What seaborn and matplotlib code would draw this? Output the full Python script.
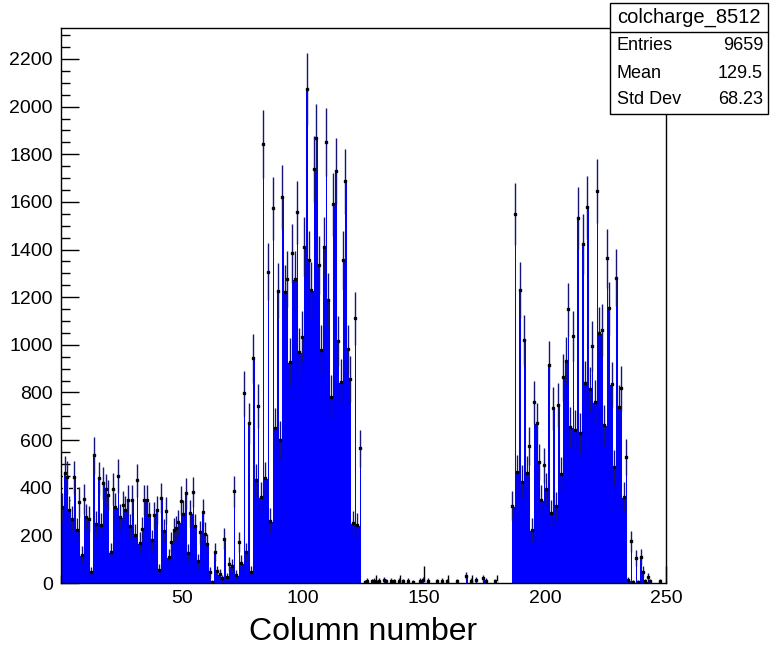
import numpy as np
import pandas as pd
import seaborn as sns
import matplotlib.pyplot as plt
from matplotlib.ticker import MultipleLocator
from matplotlib.patches import Rectangle

# bin contents, column 0..249
counts_left = [318, 460, 444, 306, 270, 444, 222, 340, 118, 354,
               278, 267, 45, 536, 248, 440, 243, 421, 393, 368,
               130, 395, 318, 449, 278, 326,
               306, 348, 239, 348, 200, 432, 169, 228, 348, 348,
               284, 180, 284, 306, 54, 356, 220, 304, 108, 172,
               222, 230, 254, 345, 290,
               376, 127, 292, 382, 240, 92, 213, 297, 207, 165,
               45, 6, 130, 50, 38, 20, 186, 25, 78, 73,
               386, 34, 172, 85, 796]
counts_peak1 = [131, 670, 47, 943, 432, 743, 362, 1843, 439, 1307,
                262, 1573, 649, 1227, 600, 1620, 1220, 1276, 929, 1384,
                1276, 1556, 968, 1034, 1412,
                2072, 1356, 1230, 1738, 1867, 1335, 980, 1412, 1850, 1188,
                782, 1591, 1731, 1017, 845, 1356, 1686, 981, 855, 250,
                1111, 243, 565, 0, 5]
counts_gap = [10, 0, 8, 10, 6, 10, 0, 12, 8, 0,
              10, 8, 0, 10, 0, 8, 0, 10, 0, 6,
              0, 0, 10, 12, 0, 10, 0, 0, 0, 8,
              0, 10, 0, 8, 0, 0, 0, 8, 0, 0,
              0, 30, 0, 10, 0, 12, 0, 0, 20, 10,
              0, 0, 0, 8, 0, 0, 0, 0, 0, 0]
counts_peak2 = [325, 1549, 467, 1230, 425, 1020, 460, 575, 222, 758,
                670, 509, 348, 495, 395,
                915, 292, 734, 323, 747, 458, 863, 933, 1149, 656,
                1037, 642, 1531, 631, 1422, 838, 1577, 813, 995,
                761, 1647, 1051, 1062, 663, 1363, 1153, 834, 486, 1282,
                740, 817, 362, 528, 13, 176, 6, 104, 6, 108,
                48, 8, 25, 8, 0, 0, 0, 8, 0, 0]

counts = np.array(counts_left + counts_peak1 + counts_gap + counts_peak2, dtype=float)
centers = np.arange(250) + 0.5
# weighted fill: each hit carries ~11 charge units -> sqrt(sum w^2)
err = np.sqrt(counts * 11)

stats_title = 'colcharge_8512'
stats_rows = [('Entries', '9659'), ('Mean', '129.5'), ('Std Dev', '68.23')]

sns.set_style('white')
plt.rcParams['font.family'] = ['Liberation Sans', 'DejaVu Sans']
plt.rcParams['text.color'] = 'black'
plt.rcParams['xtick.color'] = 'black'
plt.rcParams['ytick.color'] = 'black'
plt.rcParams['axes.labelcolor'] = 'black'

W, H = 772, 646
fig = plt.figure(figsize=(W / 100, H / 100), dpi=100)
ax = fig.add_axes([61 / W, 1 - 583 / H, 605 / W, 555 / H])

df = pd.DataFrame({'col': centers, 'charge': counts})
sns.histplot(data=df, x='col', weights='charge', binwidth=1, binrange=(0, 250),
             element='step', fill=True, color='#0000ff', alpha=1,
             edgecolor='white', linewidth=0.7, ax=ax)

m = counts > 0
ax.errorbar(centers[m], counts[m], yerr=err[m], fmt='s', ms=1.5,
            mfc='black', mec='black', ecolor='#14147a', elinewidth=1.0,
            capsize=0, lw=0, zorder=5)

ax.set_xlim(0, 250)
ax.set_ylim(0, 2330)
ax.xaxis.set_major_locator(MultipleLocator(50))
ax.xaxis.set_minor_locator(MultipleLocator(10))
ax.yaxis.set_major_locator(MultipleLocator(200))
ax.yaxis.set_minor_locator(MultipleLocator(50))
ax.tick_params(axis='x', which='major', direction='in', length=12, width=1,
               labelsize=14, pad=5, bottom=True, top=False)
ax.tick_params(axis='x', which='minor', direction='in', length=6, width=1,
               bottom=True, top=False)
ax.tick_params(axis='y', which='major', direction='in', length=13, width=1,
               labelsize=14, pad=6, left=True, right=False)
ax.tick_params(axis='y', which='minor', direction='in', length=6.5, width=1,
               left=True, right=False)
ax.set_xticks([50, 100, 150, 200, 250])
ax.set_ylabel('')
ax.set_xlabel('Column number', fontsize=23, labelpad=7)
for s in ax.spines.values():
    s.set_color('black')
    s.set_linewidth(1)

# stats box
bx0, bx1, by0, by1 = 610 / W, 768 / W, 1 - 114 / H, 1 - 3 / H
fig.add_artist(Rectangle((bx0, by0), bx1 - bx0, by1 - by0, transform=fig.transFigure,
                         facecolor='white', edgecolor='black', lw=1, zorder=10))
fig.add_artist(plt.Line2D([bx0, bx1], [1 - 32 / H] * 2, transform=fig.transFigure,
                          color='black', lw=1, zorder=11))
fig.text((bx0 + bx1) / 2, 1 - 17 / H, stats_title, ha='center', va='center',
         fontsize=14.5, zorder=12)
for (lab, val), yy in zip(stats_rows, [46, 73, 99]):
    fig.text(617 / W, 1 - yy / H, lab, ha='left', va='center', fontsize=13, zorder=12)
    fig.text(763 / W, 1 - yy / H, val, ha='right', va='center', fontsize=13, zorder=12)

fig.savefig('out.png', dpi=100)
